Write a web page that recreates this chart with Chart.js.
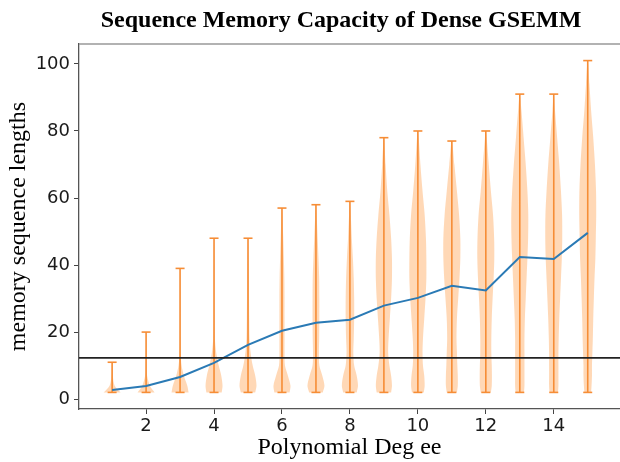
<!DOCTYPE html>
<html>
<head>
<meta charset="utf-8">
<script src="https://cdn.jsdelivr.net/npm/chart.js@4.4.1/dist/chart.umd.min.js"></script>
<style>
  html, body { margin: 0; padding: 0; background: #fff; }
</style>
</head>
<body>
<canvas id="myChart" width="620" height="462"></canvas>
<script>
// data
var degrees = [1, 2, 3, 4, 5, 6, 7, 8, 9, 10, 11, 12, 13, 14, 15];
var seqMin = [2, 2, 2, 2, 2, 2, 2, 2, 2, 2, 2, 2, 2, 2, 2];
var seqMax = [11, 20, 39, 48, 48, 57, 58, 59, 78, 80, 77, 80, 91, 91, 101];
var seqMean = [2.7, 3.9, 6.6, 10.8, 16.2, 20.4, 22.8, 23.7, 27.9, 30.2, 33.8, 32.4, 42.4, 41.8, 49.6];
var threshold = 12.3;

// violin widths (fraction of the widest point) at these lengths
var densityLevels = [2, 4, 7, 10, 14, 18, 24, 30, 36, 42, 48, 55, 62, 70, 78, 86, 94];
var densityWidths = [
  [1, 0.3, 0.08, 0.04],
  [1, 0.45, 0.12, 0.06, 0.03, 0.02],
  [1, 0.85, 0.45, 0.18, 0.06, 0.03, 0.02, 0.02, 0.02],
  [0.9, 1, 0.85, 0.55, 0.25, 0.1, 0.05, 0.04, 0.04, 0.03],
  [0.85, 1, 0.85, 0.55, 0.3, 0.18, 0.14, 0.12, 0.1, 0.06],
  [0.9, 1, 0.7, 0.35, 0.3, 0.3, 0.3, 0.3, 0.28, 0.22, 0.15, 0.06],
  [0.8, 1, 0.75, 0.4, 0.35, 0.38, 0.4, 0.4, 0.38, 0.3, 0.2, 0.08],
  [0.8, 0.95, 0.8, 0.5, 0.4, 0.45, 0.5, 0.5, 0.45, 0.35, 0.22, 0.1],
  [0.85, 0.95, 0.85, 0.65, 0.5, 0.55, 0.7, 0.85, 0.95, 0.95, 0.85, 0.65, 0.4, 0.2],
  [0.7, 0.8, 0.75, 0.6, 0.55, 0.6, 0.75, 0.9, 1, 1, 0.95, 0.8, 0.55, 0.3, 0.1],
  [0.6, 0.7, 0.7, 0.65, 0.6, 0.55, 0.6, 0.75, 0.9, 1, 1, 0.85, 0.6, 0.3],
  [0.6, 0.7, 0.72, 0.7, 0.65, 0.65, 0.7, 0.8, 0.92, 1, 0.98, 0.85, 0.6, 0.35, 0.1],
  [0.5, 0.55, 0.55, 0.55, 0.55, 0.55, 0.6, 0.7, 0.8, 0.9, 0.98, 1, 0.9, 0.7, 0.45, 0.2],
  [0.5, 0.55, 0.55, 0.55, 0.55, 0.58, 0.65, 0.75, 0.85, 0.95, 1, 0.98, 0.85, 0.65, 0.4, 0.15],
  [0.4, 0.45, 0.5, 0.5, 0.55, 0.6, 0.65, 0.72, 0.8, 0.9, 0.95, 1, 0.98, 0.85, 0.65, 0.4, 0.2]
];

var xTicks = [2, 4, 6, 8, 10, 12, 14];
var yTicks = [0, 20, 40, 60, 80, 100];

var xMin = 0.025, xMax = 15.95;
var yMin = -2.95, yMax = 105.95;
var violinHalf = 0.25;

var orange = "#f68d36";
var violinFill = "rgba(255, 127, 14, 0.3)";
var blue = "#2a7ab5";

function violinPoints(i) {
  var d = degrees[i];
  var w = densityWidths[i];
  var right = [];
  var left = [];
  for (var k = 0; k < w.length; k++) {
    right.push({ x: d + w[k] * violinHalf, y: densityLevels[k] });
    left.unshift({ x: d - w[k] * violinHalf, y: densityLevels[k] });
  }
  return right.concat([{ x: d, y: seqMax[i] }], left);
}

var datasets = [];

// black reference line
datasets.push({
  data: [{ x: xMin, y: threshold }, { x: xMax, y: threshold }],
  borderColor: "#222",
  borderWidth: 1.6,
  pointRadius: 0,
  order: 0
});

// mean line
datasets.push({
  data: degrees.map(function(d, i) { return { x: d, y: seqMean[i] }; }),
  borderColor: blue,
  borderWidth: 2,
  pointRadius: 0,
  tension: 0,
  order: 1
});

// min-max bars, broken by gaps
var barPoints = [];
degrees.forEach(function(d, i) {
  barPoints.push({ x: d, y: seqMin[i] }, { x: d, y: seqMax[i] }, { x: d, y: null });
});
datasets.push({
  data: barPoints,
  borderColor: orange,
  borderWidth: 1.6,
  pointRadius: 0,
  spanGaps: false,
  order: 2
});

// caps
var capPoints = [];
degrees.forEach(function(d, i) {
  capPoints.push({ x: d, y: seqMin[i] }, { x: d, y: seqMax[i] });
});
datasets.push({
  data: capPoints,
  showLine: false,
  pointStyle: "line",
  pointRadius: 4.5,
  pointBorderWidth: 1.6,
  pointBorderColor: orange,
  order: 2
});

// violin bodies
degrees.forEach(function(d, i) {
  datasets.push({
    data: violinPoints(i),
    borderWidth: 0,
    borderColor: "rgba(0,0,0,0)",
    backgroundColor: violinFill,
    fill: "shape",
    tension: 0.3,
    pointRadius: 0,
    order: 5
  });
});

var titlePlugin = {
  id: "plotTitle",
  afterDraw: function(chart) {
    var ctx = chart.ctx;
    var area = chart.chartArea;
    ctx.save();
    ctx.strokeStyle = "#999";
    ctx.lineWidth = 1.5;
    ctx.beginPath();
    ctx.moveTo(area.left, area.top);
    ctx.lineTo(area.right, area.top);
    ctx.stroke();
    ctx.fillStyle = "#000";
    ctx.font = "bold 24px 'Liberation Serif'";
    ctx.textAlign = "center";
    ctx.textBaseline = "alphabetic";
    ctx.fillText("Sequence Memory Capacity of Dense GSEMM", 341, 27);
    ctx.restore();
  }
};

new Chart(document.getElementById("myChart"), {
  type: "line",
  data: { datasets: datasets },
  plugins: [titlePlugin],
  options: {
    responsive: false,
    animation: false,
    devicePixelRatio: 1,
    layout: { autoPadding: false, padding: { top: 44, left: 0, right: 0, bottom: 0 } },
    plugins: {
      legend: { display: false },
      tooltip: { enabled: false },
      title: { display: false }
    },
    scales: {
      x: {
        type: "linear",
        min: xMin,
        max: xMax,
        afterBuildTicks: function(scale) {
          scale.ticks = xTicks.map(function(v) { return { value: v }; });
        },
        afterFit: function(scale) { scale.height = 53; },
        grid: { display: true, drawOnChartArea: false, drawTicks: true, tickLength: 5, tickColor: "#444" },
        border: { display: true, color: "#555", width: 1.3 },
        ticks: {
          color: "#1a1a1a",
          padding: 2,
          maxRotation: 0,
          font: { family: "DejaVu Sans", size: 18 }
        },
        title: {
          display: true,
          text: "Polynomial Deg ee",
          color: "#000",
          padding: { top: 0, bottom: 0 },
          font: { family: "Liberation Serif", size: 24, lineHeight: 1.2 }
        }
      },
      y: {
        type: "linear",
        min: yMin,
        max: yMax,
        afterBuildTicks: function(scale) {
          scale.ticks = yTicks.map(function(v) { return { value: v }; });
        },
        afterFit: function(scale) { scale.width = 79; },
        grid: { display: true, drawOnChartArea: false, drawTicks: true, tickLength: 5, tickColor: "#444" },
        border: { display: true, color: "#555", width: 1.3 },
        ticks: {
          color: "#1a1a1a",
          padding: 4,
          font: { family: "DejaVu Sans", size: 18 }
        },
        title: {
          display: true,
          text: "memory sequence lengths",
          color: "#000",
          padding: { top: 4, bottom: 0 },
          font: { family: "Liberation Serif", size: 24, lineHeight: 1.2 }
        }
      }
    }
  }
});
</script>
</body>
</html>
